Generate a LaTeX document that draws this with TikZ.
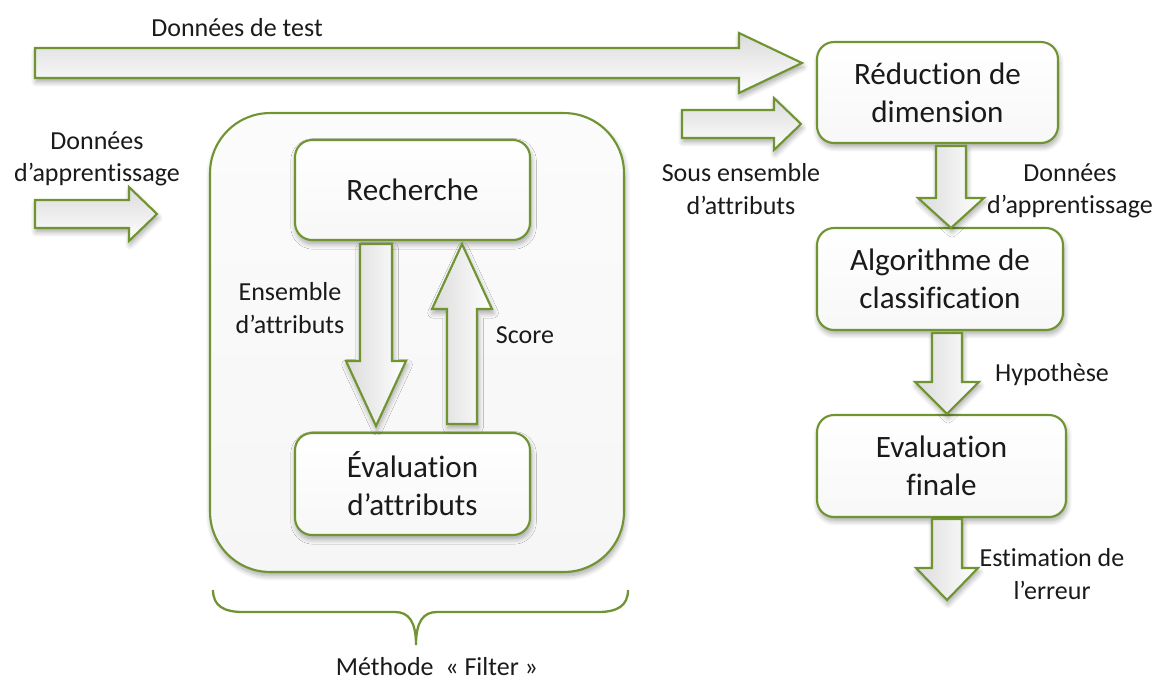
\documentclass[tikz,border=0pt]{standalone}
\usepackage{fontspec}
\setmainfont{Carlito}[Ligatures={NoCommon}]
\usetikzlibrary{calc,shadows.blur}
\definecolor{leaf}{HTML}{6F9431}
\definecolor{ink}{HTML}{1A1A1A}
% #1 style, #2 start, #3 tip, #4 dx, #5 dy, #6 shaft half width, #7 head half width, #8 head length
\newcommand\blockarrow[8]{%
  \draw[#1]
    ($(#2)+({-(#5)*(#6)},{(#4)*(#6)})$)
    -- ($(#3)+({-(#4)*(#8)-(#5)*(#6)},{-(#5)*(#8)+(#4)*(#6)})$)
    -- ($(#3)+({-(#4)*(#8)-(#5)*(#7)},{-(#5)*(#8)+(#4)*(#7)})$)
    -- (#3)
    -- ($(#3)+({-(#4)*(#8)+(#5)*(#7)},{-(#5)*(#8)-(#4)*(#7)})$)
    -- ($(#3)+({-(#4)*(#8)+(#5)*(#6)},{-(#5)*(#8)-(#4)*(#6)})$)
    -- ($(#2)+({(#5)*(#6)},{-(#4)*(#6)})$)
    -- cycle;}
\begin{document}
\begin{tikzpicture}[x=0.02cm,y=-0.02cm,
  softshadow/.style={blur shadow={shadow xshift=0.6pt, shadow yshift=-2.2pt, shadow opacity=35, shadow blur steps=8, shadow blur radius=3pt}},
  box/.style={draw=leaf, line width=1.2pt, rounded corners=0.34cm, top color=white, bottom color=gray!6,
    softshadow, font=\fontsize{17.7}{21.5}\selectfont, text=ink, align=center, inner sep=0pt},
  filterbox/.style={draw=leaf, line width=1.2pt, rounded corners=1.2cm, top color=gray!3, bottom color=gray!7, softshadow},
  lbl/.style={font=\fontsize{14.8}{18.3}\selectfont, text=ink, align=center, inner sep=0pt},
  harrow/.style={draw=leaf, line width=1.2pt, top color=gray!28, middle color=white, bottom color=white, softshadow},
  varrow/.style={draw=leaf, line width=1.2pt, left color=gray!28, middle color=white, right color=white, softshadow},
  brace/.style={draw=leaf, line width=1.3pt}]
\useasboundingbox (0,0) rectangle (1167,680);

% filter block
\node[filterbox, minimum width=8.28cm, minimum height=9.18cm] (filt) at (417,342.5) {};
\node[box, minimum width=4.7cm, minimum height=2cm] (rech) at (412.5,190) {Recherche};
\node[box, minimum width=4.7cm, minimum height=2.04cm] (evat) at (412.5,484) {Évaluation\\d’attributs};

% right column
\node[box, minimum width=4.82cm, minimum height=2.02cm] (red) at (937.5,92.5) {Réduction de\\dimension};
\node[box, minimum width=4.92cm, minimum height=2.04cm] (algo) at (940,279) {Algorithme de\\classification};
\node[box, minimum width=4.98cm, minimum height=2.04cm] (fin) at (941.5,466) {Evaluation\\finale};

% arrow end points
\coordinate (test0) at (35,63);    \coordinate (test1) at ($(red.west)+(-14,-29.5)$);
\coordinate (app0) at (35,214);    \coordinate (app1) at ($(filt.west)+(-52,-128.5)$);
\coordinate (sous0) at (682,124);  \coordinate (sous1) at ($(red.west)+(-15,31.5)$);
\coordinate (ens0) at ($(rech.south)+(-36.5,3)$);  \coordinate (ens1) at ($(evat.north)+(-36.5,-6)$);
\coordinate (sc0) at ($(evat.north)+(49.5,-8)$);   \coordinate (sc1) at ($(rech.south)+(49.5,3)$);
\coordinate (ra0) at ($(red.south)+(13.5,2)$);     \coordinate (ra1) at ($(algo.north)+(11,1)$);
\coordinate (ae0) at ($(algo.south)+(7,2)$);       \coordinate (ae1) at ($(fin.north)+(5.5,0)$);
\coordinate (eo0) at ($(fin.south)+(5.5,1)$);      \coordinate (eo1) at (947,600);

% block arrows
\blockarrow{harrow}{test0}{test1}{1}{0}{15}{30}{63}
\blockarrow{harrow}{app0}{app1}{1}{0}{14}{27}{28}
\blockarrow{harrow}{sous0}{sous1}{1}{0}{14}{26}{27}
\blockarrow{varrow}{ens0}{ens1}{0}{1}{16}{30}{65}
\blockarrow{varrow}{sc0}{sc1}{0}{-1}{15}{30}{65}
\blockarrow{varrow}{ra0}{ra1}{0}{1}{15}{33}{30}
\blockarrow{varrow}{ae0}{ae1}{0}{1}{15}{32}{32}
\blockarrow{varrow}{eo0}{eo1}{0}{1}{15}{31}{32}

% labels
\node[lbl] (ltest) at (237,28) {Données de test};
\node[lbl] (lapp) at (97,159) {Données\\d’apprentissage};
\node[lbl] (lens) at (290,308) {Ensemble\\d’attributs};
\node[lbl] (lscore) at (525,335) {Score};
\node[lbl] (lsous) at (741,189) {Sous ensemble\\d’attributs};
\node[lbl] (lapp2) at (1070,191) {Données\\d’apprentissage};
\node[lbl] (lhyp) at (1052,375) {Hypothèse};
\node[lbl] (lest) at (1052,574) {Estimation de\\l’erreur};

% brace
\coordinate (brL) at (213,590);
\coordinate (brR) at (628,590);
\coordinate (brT) at (416,645);
\draw[brace] (brL) .. controls (213,606) and (224,612) .. (243,612) -- (395,612)
  .. controls (409,612) and (416,622) .. (brT)
  .. controls (416,622) and (423,612) .. (437,612) -- (598,612)
  .. controls (617,612) and (628,606) .. (brR);
\node[lbl] (lmeth) at (437,667) {Méthode~~« Filter »};
\end{tikzpicture}
\end{document}
